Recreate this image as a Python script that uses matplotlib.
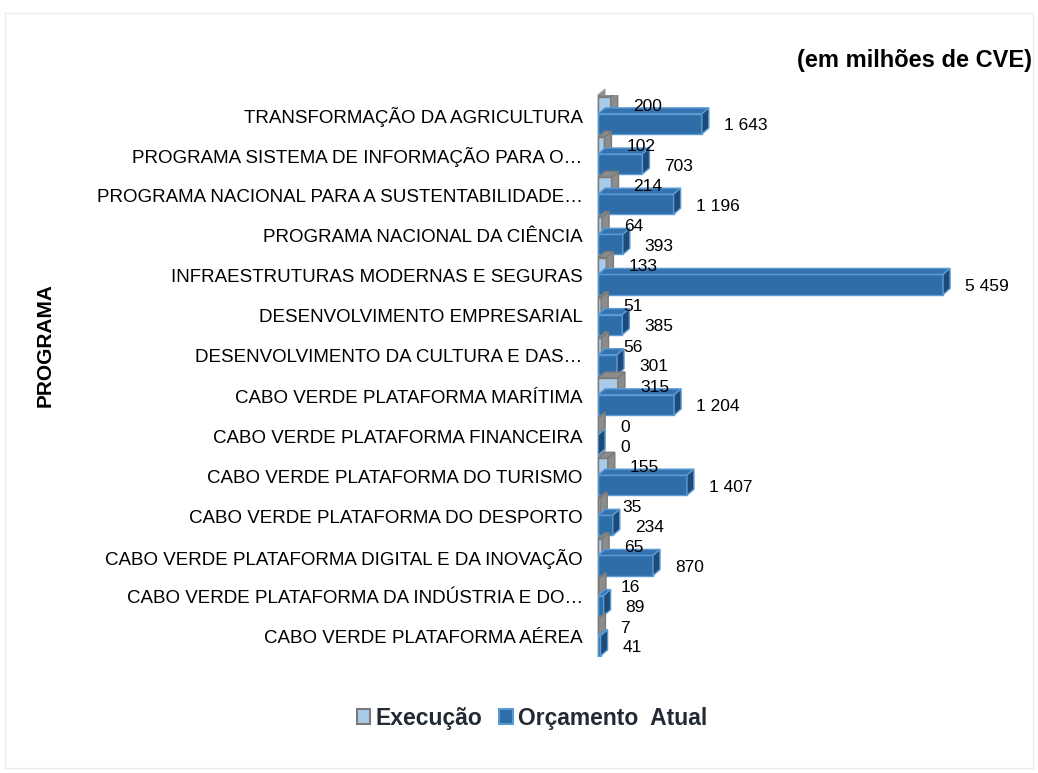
import matplotlib

matplotlib.use("Agg")
import matplotlib.pyplot as plt
from matplotlib.patches import Patch, Polygon, Rectangle

# ---- data (top to bottom) ------------------------------------------------------------

CATEGORIES = [
    "TRANSFORMAÇÃO DA AGRICULTURA",
    "PROGRAMA SISTEMA DE INFORMAÇÃO PARA O…",
    "PROGRAMA NACIONAL PARA A SUSTENTABILIDADE…",
    "PROGRAMA NACIONAL DA CIÊNCIA",
    "INFRAESTRUTURAS MODERNAS E SEGURAS",
    "DESENVOLVIMENTO EMPRESARIAL",
    "DESENVOLVIMENTO DA CULTURA E DAS…",
    "CABO VERDE PLATAFORMA MARÍTIMA",
    "CABO VERDE PLATAFORMA FINANCEIRA",
    "CABO VERDE PLATAFORMA DO TURISMO",
    "CABO VERDE PLATAFORMA DO DESPORTO",
    "CABO VERDE PLATAFORMA DIGITAL E DA INOVAÇÃO",
    "CABO VERDE PLATAFORMA DA INDÚSTRIA E DO…",
    "CABO VERDE PLATAFORMA AÉREA",
]
EXECUCAO = [200, 102, 214, 64, 133, 51, 56, 315, 0, 155, 35, 65, 16, 7]
ORCAMENTO = [1643, 703, 1196, 393, 5459, 385, 301, 1204, 0, 1407, 234, 870, 89, 41]

# ---- style ---------------------------------------------------------------------------

EXEC_FRONT, EXEC_SIDE, EXEC_EDGE = "#a9cae9", "#8c8c8c", "#7a7a7a"
ORC_FRONT, ORC_TOP, ORC_SIDE, ORC_EDGE = "#2e6da8", "#3473b0", "#1d4a78", "#5b9bd5"
WALL = "#8f8f8f"
TEXT = "#000000"

W, H = 1038, 773
AX_L, AX_R, AX_T, AX_B = 598, 1000, 95, 657  # axes box in pixels
XMAX = 6360
DX_PX, DY_PX = 7, 6  # 3d depth offset

plt.rcParams["font.family"] = ["Liberation Sans", "DejaVu Sans"]

fig = plt.figure(figsize=(W / 100, H / 100), dpi=100)
ax = fig.add_axes([AX_L / W, 1 - AX_B / H, (AX_R - AX_L) / W, (AX_B - AX_T) / H])
n = len(CATEGORIES)
ax.set_xlim(0, XMAX)
ax.set_ylim(n - 0.5, -0.5)

dx = DX_PX * XMAX / (AX_R - AX_L)
dy = DY_PX * n / (AX_B - AX_T)


def bar3d(y, v, h, front, top, side, edge, z):
    y0, y1 = y - h / 2, y + h / 2
    ax.barh(y, v, height=h, color=front, edgecolor=edge, lw=1, zorder=z)
    ax.add_patch(Polygon([(0, y0), (v, y0), (v + dx, y0 - dy), (dx, y0 - dy)],
                         closed=True, fc=top, ec=edge, lw=1, zorder=z))
    ax.add_patch(Polygon([(v, y0), (v + dx, y0 - dy), (v + dx, y1 - dy), (v, y1)],
                         closed=True, fc=side, ec=edge, lw=1, zorder=z))


def fmt(v):
    return f"{v:,}".replace(",", " ")


# back wall
ax.add_patch(Polygon([(0, n - 0.5), (0, -0.5), (dx, -0.5 - dy), (dx, n - 0.5 - dy)],
                     closed=True, fc=WALL, ec="#a0a0a0", lw=0.8, zorder=1, clip_on=False))

for i, (e, o) in enumerate(zip(EXECUCAO, ORCAMENTO)):
    bar3d(i - 0.25, e, 0.4, EXEC_FRONT, EXEC_SIDE, EXEC_SIDE, EXEC_EDGE, 2 + 2 * i)
    bar3d(i + 0.22, o, 0.5, ORC_FRONT, ORC_TOP, ORC_SIDE, ORC_EDGE, 3 + 2 * i)
    ax.annotate(fmt(e), xy=(e + dx, i - 0.22), xytext=(15, 0), textcoords="offset pixels",
                ha="left", va="center", fontsize=12.5, color=TEXT, zorder=50, annotation_clip=False)
    ax.annotate(fmt(o), xy=(o + dx, i + 0.27), xytext=(15, 0), textcoords="offset pixels",
                ha="left", va="center", fontsize=12.5, color=TEXT, zorder=50, annotation_clip=False)

ax.set_yticks(range(n))
ax.set_yticklabels(CATEGORIES, fontsize=13.5, color=TEXT)
ax.tick_params(axis="y", length=0, pad=11)
ax.set_xticks([])
for s in ax.spines.values():
    s.set_visible(False)

fig.text(45 / W, 1 - 345 / H, "PROGRAMA", rotation=90, ha="center", va="center",
         fontsize=15, fontweight="bold")
fig.text(1032 / W, 1 - 61 / H, "(em milhões de CVE)", ha="right", va="center",
         fontsize=17, fontweight="bold")

handles = [
    Patch(facecolor=EXEC_FRONT, edgecolor=EXEC_EDGE, lw=1.5, label="Execução"),
    Patch(facecolor=ORC_FRONT, edgecolor=ORC_EDGE, lw=1.5, label="Orçamento  Atual"),
]
leg = fig.legend(handles=handles, loc="center", bbox_to_anchor=(532 / W, 1 - 718 / H), ncol=2,
                 frameon=False, handlelength=0.6, handleheight=0.6, handletextpad=0.25,
                 columnspacing=0.7, prop={"size": 16.5, "weight": "bold"})
for t in leg.get_texts():
    t.set_color("#222a35")

fig.patches.append(Rectangle((5 / W, 1 - 768 / H), 1028 / W, 755 / H, transform=fig.transFigure,
                             fill=False, ec="#ececec", lw=1))

fig.savefig("out.png", dpi=100)
